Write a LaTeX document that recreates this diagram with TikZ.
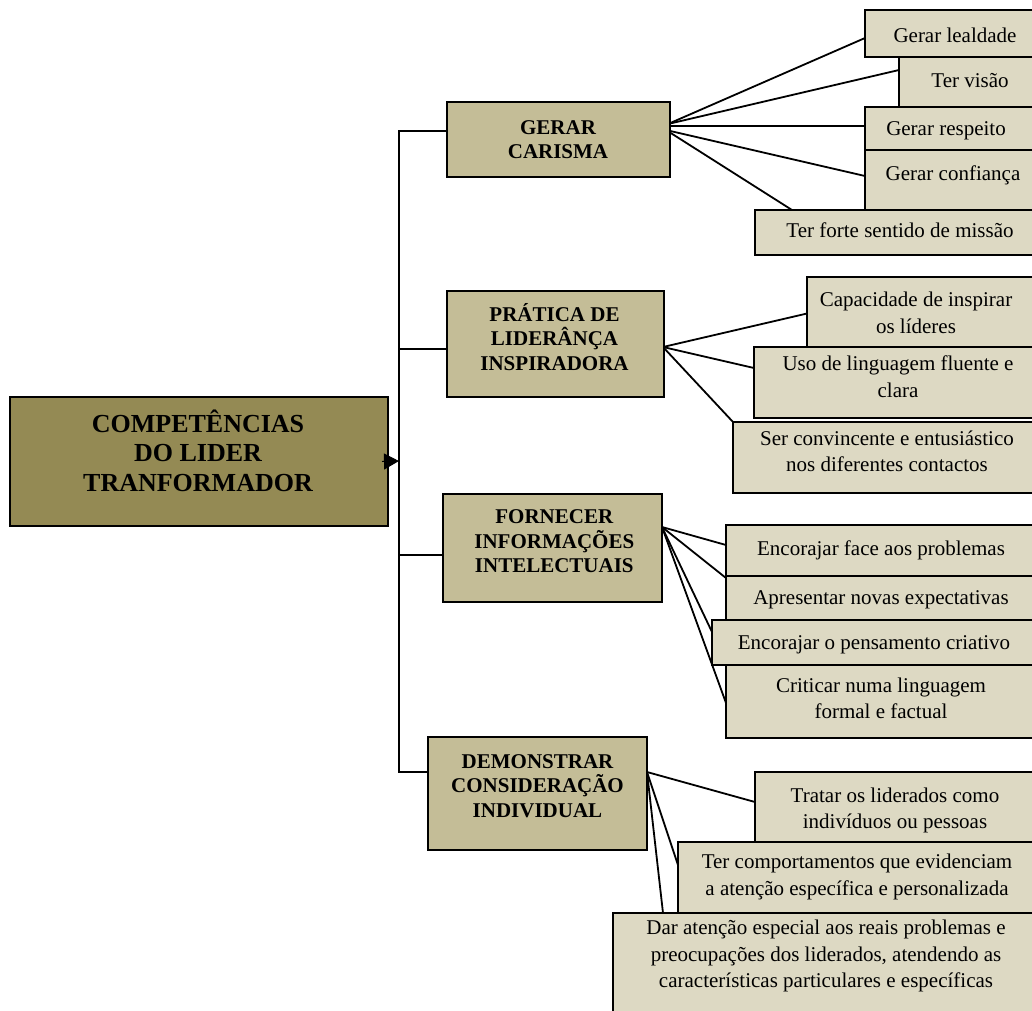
\documentclass[tikz,border=0pt]{standalone}
\usepackage{fontspec}
\setmainfont{Liberation Serif}
\usetikzlibrary{arrows.meta}
\definecolor{rootfill}{HTML}{948A54}
\definecolor{midfill}{HTML}{C4BD97}
\definecolor{leaffill}{HTML}{DDD9C3}
\pgfdeclarelayer{background}
\pgfsetlayers{background,main}
\begin{document}
\begin{tikzpicture}[x=1pt,y=-1pt,
  rootbox/.style={draw=black, line width=1.8pt, fill=rootfill, inner sep=0pt, outer sep=0pt},
  midbox/.style={draw=black, line width=1.7pt, fill=midfill, inner sep=0pt, outer sep=0pt},
  leafbox/.style={draw=black, line width=1.7pt, fill=leaffill, inner sep=0pt, outer sep=0pt},
  sz/.style 2 args={minimum width=#1pt, minimum height=#2pt},
  roottext/.style={align=center, inner sep=0pt, font=\fontsize{26}{29.5}\selectfont\bfseries},
  midtext/.style={align=center, inner sep=0pt, font=\fontsize{21}{24.5}\selectfont\bfseries},
  leaftext/.style={align=center, inner sep=0pt, font=\fontsize{21}{26.5}\selectfont},
  trunk/.style={line width=2.2pt},
  twig/.style={line width=1.8pt},
  pointer/.style={line width=1pt, -{Triangle[length=15pt,width=16pt]}},
]
\useasboundingbox (0,0) rectangle (1032,1010);
\clip (0,0) rectangle (1032,1010);

% ---------- root and second level ----------
\node[rootbox, sz={378}{129}] (root) at (199,461.5) {};
\node[roottext] (rootlabel) at (198,450.7) {COMPETÊNCIAS\\DO LIDER\\TRANFORMADOR};

\node[midbox, sz={223}{75}]  (g1) at (558.5,139.5) {};
\node[midtext] (g1label) at (558,139.4) {GERAR\\CARISMA};
\node[midbox, sz={217}{106}] (g2) at (555.5,344) {};
\node[midtext] (g2label) at (554.5,337) {PRÁTICA DE\\LIDERÂNÇA\\INSPIRADORA};
\node[midbox, sz={219}{108}] (g3) at (552.5,548) {};
\node[midtext] (g3label) at (554.3,541.6) {FORNECER\\INFORMAÇÕES\\INTELECTUAIS};
\node[midbox, sz={219}{113}] (g4) at (537.5,793.5) {};
\node[midtext] (g4label) at (537.5,786) {DEMONSTRAR\\CONSIDERAÇÃO\\INDIVIDUAL};

% ---------- leaves of GERAR CARISMA ----------
\node[leafbox, sz={180}{47}] (a1) at (955,33.5) {};
\node[leaftext] (a1label) at (955,34.9) {Gerar lealdade};
\node[leafbox, sz={146}{50}] (a2) at (972,82) {};
\node[leaftext] (a2label) at (970,81) {Ter visão};
\node[leafbox, sz={180}{43}] (a3) at (955,128.5) {};
\node[leaftext] (a3label) at (946,130.4) {Gerar respeito};
\node[leafbox, sz={180}{65}] (a4) at (955,182.5) {};
\node[leaftext] (a4label) at (953,175.2) {Gerar confiança};
\node[leafbox, sz={290}{45}] (a5) at (900,232.5) {};
\node[leaftext] (a5label) at (900,229.9) {Ter forte sentido de missão};

% ---------- leaves of PRATICA ----------
\node[leafbox, sz={238}{73}] (b1) at (926,313.5) {};
\node[leaftext] (b1label) at (916,312.9) {Capacidade de inspirar\\os líderes};
\node[leafbox, sz={291}{71}] (b2) at (899.5,382.5) {};
\node[leaftext] (b2label) at (898,376.9) {Uso de linguagem fluente e\\clara};
\node[leafbox, sz={312}{71}] (b3) at (889,457.5) {};
\node[leaftext] (b3label) at (887,451.4) {Ser convincente e entusiástico\\nos diferentes contactos};

% ---------- leaves of FORNECER ----------
\node[leafbox, sz={319}{51}] (c1) at (885.5,550.5) {};
\node[leaftext] (c1label) at (881,550.2) {Encorajar face aos problemas};
\node[leafbox, sz={319}{46}] (c2) at (885.5,599) {};
\node[leaftext] (c2label) at (881,600.2) {Apresentar novas expectativas};
\node[leafbox, sz={333}{45}] (c3) at (878.5,642.5) {};
\node[leaftext] (c3label) at (874,645.2) {Encorajar o pensamento criativo};
\node[leafbox, sz={319}{73}] (c4) at (885.5,701.5) {};
\node[leaftext] (c4label) at (881,698.4) {Criticar numa linguagem\\formal e factual};

% ---------- leaves of DEMONSTRAR ----------
\node[leafbox, sz={290}{70}] (d1) at (900,807) {};
\node[leaftext] (d1label) at (895,810.2) {Tratar os liderados como\\indivíduos ou pessoas};
\node[leafbox, sz={367}{71}] (d2) at (861.5,877.5) {};
\node[leaftext] (d2label) at (857,876.7) {Ter comportamentos que evidenciam\\a atenção específica e personalizada};
\node[leafbox, sz={432}{112}] (d3) at (829,969) {};
\node[leaftext] (d3label) at (826,956.2) {Dar atenção especial aos reais problemas e\\preocupações dos liderados, atendendo as\\características particulares e específicas};

% trunk junctions
\coordinate (t1) at (399,131);
\coordinate (t2) at (399,349);
\coordinate (t3) at (399,555);
\coordinate (t4) at (399,772);
\coordinate (tm) at (399,461);

% ---------- connectors, behind the boxes ----------
\begin{pgfonlayer}{background}
\draw[trunk] ([yshift=8.5pt]g1.west) -- (t1) -- (t4) -- ([yshift=21.5pt]g4.west);
\draw[trunk] (t2) -- ([yshift=-5pt]g2.west);
\draw[trunk] (t3) -- ([yshift=-7pt]g3.west);

% fan-out from GERAR CARISMA
\draw[twig] ([xshift=-2pt,yshift=15.5pt]g1.east) -- ([yshift=-4.5pt]a1.west);
\draw[twig] ([xshift=-2pt,yshift=15.5pt]g1.east) -- ([yshift=12pt]a2.west);
\draw[twig] ([xshift=-2pt,yshift=13.5pt]g1.east) -- ([yshift=2.5pt]a3.west);
\draw[twig] ([xshift=-4pt,yshift=9.5pt]g1.east) -- ([yshift=6.5pt]a4.west);
\draw[twig] ([xshift=-4pt,yshift=9.5pt]g1.east) -- ([xshift=37pt]a5.north west);
% fan-out from PRATICA
\draw[twig] ([xshift=-1pt,yshift=-3pt]g2.east) -- (b1.west);
\draw[twig] ([xshift=-1pt,yshift=-3pt]g2.east) -- ([yshift=14.5pt]b2.west);
\draw[twig] ([xshift=-1pt,yshift=-3pt]g2.east) -- (b3.north west);
% fan-out from FORNECER
\draw[twig] ([yshift=21pt]g3.east) -- ([yshift=5.5pt]c1.west);
\draw[twig] ([yshift=21pt]g3.east) -- ([yshift=-2pt]c2.north west);
\draw[twig] ([yshift=21pt]g3.east) -- ([yshift=10.5pt]c3.west);
\draw[twig] ([yshift=21pt]g3.east) -- ([yshift=-1.5pt]c4.west);
% fan-out from DEMONSTRAR
\draw[twig] ([yshift=21.5pt]g4.east) -- ([yshift=5pt]d1.west);
\draw[twig] ([yshift=21.5pt]g4.east) -- ([yshift=12.5pt]d2.west);
\draw[twig] ([yshift=21.5pt]g4.east) -- ([xshift=50pt]d3.north west);
\end{pgfonlayer}

% arrow from the root box onto the trunk
\draw[pointer] ([xshift=-6pt]root.east) -- (tm);
\end{tikzpicture}
\end{document}
